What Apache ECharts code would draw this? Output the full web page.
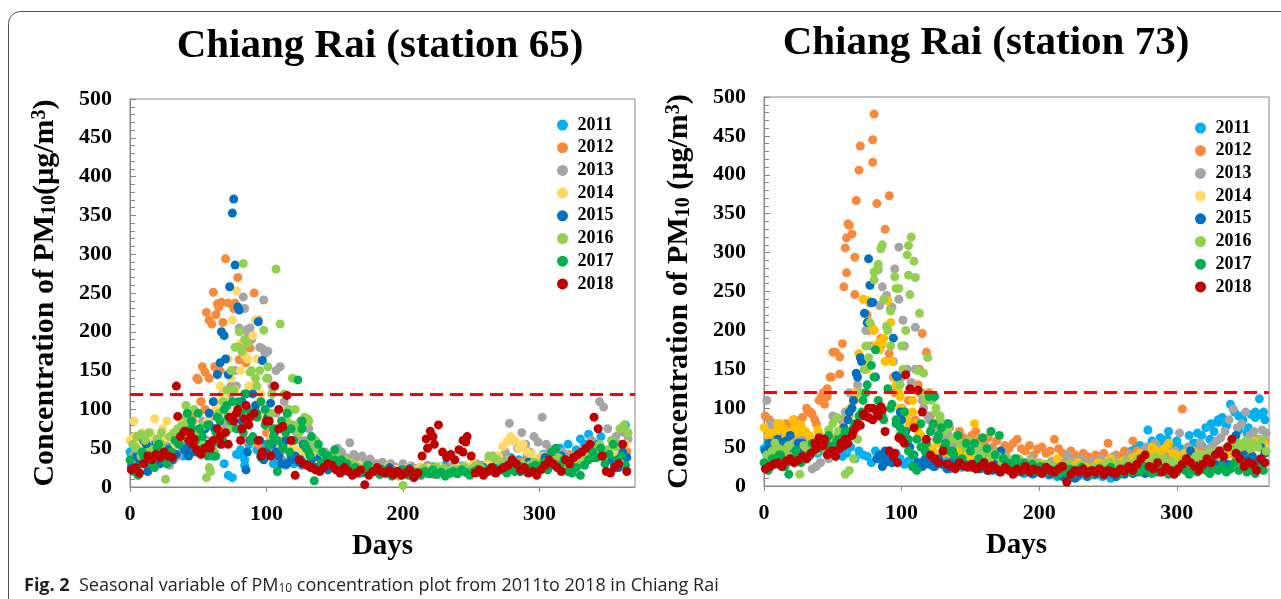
<!DOCTYPE html>
<html>
<head>
<meta charset="utf-8">
<script src="https://cdn.jsdelivr.net/npm/echarts@6/dist/echarts.min.js"></script>
<style>
  html, body { margin: 0; padding: 0; background: #ffffff; }
  #chart { width: 1281px; height: 599px; }
</style>
</head>
<body>
<div id="chart"></div>
<script>
const years = ["2011", "2012", "2013", "2014", "2015", "2016", "2017", "2018"];
// every series is read every 3rd day, each year starting on its own day
const STEP = 3;
const dayOffset = [0, 1, 2, 0, 1, 2, 0, 1];
const xTicks = [0, 100, 200, 300];

// ---- station 65 ----
const s65_2011 = [45,52,60,38,55,48,62,50,41,58, 47,55,62,40,66,58,70,52,60,45, 55,40,62,30,15,12,42,48,35,55, 60,48,38,52,45,30,40,36,28,33, 30,35,28,40,25,32,22,30,26,35, 24,28,20,35,26,22,30,19,25,27, 22,18,25,20,26,17,21,24,19,22, 20,24,18,22,26,19,23,28,21,25, 22,27,20,25,30,24,28,23,26,30, 28,25,32,38,30,35,27,40,33,30, 35,42,30,38,45,50,36,55,40,48, 62,55,68,58,48,65,45,40,60,50,72,80];
const s65_2012 = [30,42,55,38,48,35,52,44,60,40, 45,60,55,75,90,85,140,110,148,215, 251,236,238,294,120,230,270,110,160,179, 250,215,90,70,60,75,55,48,62,50, 45,38,52,35,40,30,42,35,28,38, 32,40,28,35,30,25,38,28,33,26, 30,25,22,28,20,24,18,22,26,20, 22,18,25,20,16,23,19,24,21,18, 20,25,22,18,26,21,24,28,22,26, 25,30,28,35,26,32,29,38,30,27, 30,36,28,40,33,38,30,42,35,38, 40,35,45,38,50,42,36,48,55,44,50,46];
const s65_2013 = [40,35,55,48,30,52,45,38,60,28, 35,42,50,60,55,75,70,85,78,90, 110,95,120,80,130,150,205,245,200,190, 215,180,241,175,130,150,155,110,95,80, 70,85,60,55,48,52,40,45,38,42, 50,45,38,57,42,35,40,32,36,30, 28,32,25,30,26,22,30,20,27,24, 25,22,28,20,24,26,19,23,27,21, 24,28,22,26,30,25,28,35,40,32, 38,45,82,60,50,70,55,45,65,58, 90,55,48,42,38,45,40,35,42,38, 45,52,60,55,110,103,75,60,65,55,70,62];
const s65_2014 = [60,85,55,70,48,65,88,58,75,85, 62,70,55,80,68,75,60,72,58,85, 95,110,130,120,165,215,253,150,170,130, 195,165,120,100,85,70,75,60,55,48, 52,45,40,48,38,42,35,40,32,30, 35,28,32,26,30,24,28,22,25,20, 24,20,22,26,19,23,21,18,25,20, 22,26,20,24,18,22,25,21,19,23, 25,22,28,24,30,26,22,28,32,35, 40,52,58,65,60,50,55,45,42,38, 35,40,32,38,30,36,33,28,35,30, 38,42,35,45,40,48,36,44,50,42,48,55];
const s65_2015 = [25,50,35,60,20,45,55,30,40,48, 35,42,55,48,40,65,50,60,75,95, 110,145,200,165,258,371,232,85,120,60, 95,213,163,45,108,70,40,52,30,35, 40,32,55,28,35,25,38,30,22,28, 25,30,22,28,20,26,18,24,27,21, 20,23,18,25,21,17,22,19,24,20, 18,22,20,17,24,19,21,23,18,22, 20,24,19,22,26,21,25,20,23,27, 22,26,30,24,28,20,25,32,27,22, 30,38,26,33,28,40,35,30,25,36, 32,40,45,38,55,48,42,35,30,25,45,38];
const s65_2016 = [55,65,40,60,70,48,62,55,10,65, 70,55,80,105,75,60,72,55,12,20, 45,60,110,125,150,180,200,288,185,150, 140,150,202,155,120,281,210,120,100,140, 80,75,90,85,60,50,45,40,35,42, 38,32,35,28,30,25,22,28,20,24, 20,18,22,16,20,14,2,18,22,20, 20,24,18,22,26,20,24,22,19,23, 22,26,20,24,28,25,22,40,38,35, 30,28,35,32,26,30,25,28,32,30, 28,32,35,30,38,26,33,36,40,30, 35,45,50,40,55,38,48,60,52,75,80,70];
const s65_2017 = [35,20,15,45,30,40,25,55,38,30, 45,60,55,70,95,85,60,75,50,40, 55,70,85,100,90,110,75,95,120,80, 65,90,110,100,55,75,60,85,70,45, 60,138,75,50,40,8,55,45,38,30, 35,28,22,30,20,25,18,22,28,19, 20,16,22,18,14,20,17,22,15,19, 18,15,20,17,22,16,19,14,18,20, 17,22,19,15,20,23,18,21,24,19, 22,25,18,24,20,27,22,19,25,28, 25,30,22,45,50,28,35,20,18,25, 15,28,35,45,38,50,30,42,55,35,40,28];
const s65_2018 = [22,25,18,30,40,35,42,38,45,40, 38,130,65,72,60,55,48,42,50,55, 60,75,55,70,90,85,100,75,105,90, 95,60,45,85,40,130,100,78,118,60, 15,35,30,28,25,22,20,25,30,28, 22,18,25,20,15,18,22,3,15,20, 25,20,18,22,16,20,15,18,22,12, 18,40,62,72,55,80,45,38,42,35, 48,60,65,40,18,22,15,20,25,18, 22,25,28,35,30,22,25,18,20,15, 22,28,35,30,25,20,35,30,38,42, 45,50,55,90,75,40,20,18,25,30,55,20];

// extra readings between the 3-day points, [day, value]
const x65_2011 = [[6,55],[13,40],[19,58],[30,50],[36,62],[42,48],[60,40],[66,55],[80,42],[84,28],[98,55],[104,40],[110,30]];
const x65_2012 = [[56,225],[60,210],[63,222],[65,232],[68,212],[72,237],[77,237],[50,138],[53,155],[58,140],[62,155],[80,164],[66,150],[83,180],[87,200],[52,110],[55,100],[48,95],[40,80],[44,70],[70,75],[85,60],[94,55],[100,80],[103,45],[110,38],[115,55]];
const x65_2013 = [[86,203],[88,205],[97,178],[99,172],[84,230],[95,110],[20,35],[26,45],[35,40],[44,55],[50,65],[56,60],[65,90],[71,100],[74,120],[78,130],[101,140],[104,120],[107,95],[113,85],[116,100],[125,60],[131,75]];
const x65_2014 = [[74,140],[81,185],[86,165],[92,215],[77,125],[89,130],[3,65],[9,55],[15,70],[18,50],[24,60],[33,55],[39,75],[45,68],[51,62],[57,50],[63,100],[66,85],[69,115],[72,95],[95,110],[98,90],[101,80],[104,65],[110,55]];
const x65_2015 = [[75,353],[77,286],[69,195],[80,228],[72,145],[66,160],[90,120],[85,22],[92,105],[5,40],[12,55],[18,45],[25,35],[38,60],[42,50],[48,45],[52,70],[55,55],[58,80],[62,75],[82,110],[86,45],[95,60],[98,35],[101,90],[104,55],[107,45],[111,30],[114,60],[118,40],[125,35]];
const x65_2016 = [[80,180],[82,175],[84,190],[88,148],[93,130],[76,125],[58,25],[4,50],[8,68],[14,45],[20,58],[23,70],[28,40],[35,75],[38,60],[41,90],[44,80],[47,100],[50,65],[53,78],[65,95],[70,105],[73,75],[100,140],[103,95],[115,85],[121,100],[124,70],[127,80],[130,88],[136,60]];
const x65_2017 = [[150,48],[145,40],[155,35],[140,30],[108,20],[62,40],[45,75],[50,95],[53,65],[57,80],[64,90],[68,60],[71,105],[74,85],[79,110],[83,70],[86,100],[89,60],[93,95],[96,40],[99,80],[102,55],[105,65],[112,50],[115,95],[118,75],[126,85],[128,55],[131,45],[133,65],[5,25],[10,40],[16,30],[20,50],[25,35]];
const x65_2018 = [[35,91],[44,70],[47,62],[59,50],[66,65],[72,55],[78,95],[81,60],[84,88],[87,80],[96,40],[102,85],[109,75],[218,50],[222,65],[244,45],[246,58]];

// ---- station 73 ----
const s73_2011 = [48,55,42,60,50,38,45,52,40,35, 45,38,50,42,55,48,40,52,45,38, 42,50,35,45,40,38,30,45,35,40, 38,30,42,35,28,32,25,30,28,35, 30,25,32,28,35,22,30,26,24,28, 25,30,22,26,20,28,24,18,22,25, 20,18,22,16,19,15,21,17,20,14, 16,12,18,14,10,15,12,17,13,16, 14,18,12,16,10,20,15,22,35,45, 48,52,40,72,58,45,62,55,70,50, 58,48,42,65,55,68,52,75,60,70, 82,88,78,105,95,72,85,68,92,88,112,95];
const s73_2012 = [90,75,80,65,72,60,78,85,70,68, 100,95,85,110,120,115,140,172,144,256, 337,324,367,437,150,200,445,363,180,330, 170,140,120,100,95,80,75,130,196,172, 90,75,70,65,80,60,55,70,62,58, 65,70,60,55,62,50,58,45,52,48, 55,60,48,45,52,40,48,50,42,45, 60,48,42,38,45,40,35,42,38,36, 40,38,42,55,35,40,38,45,42,58, 45,40,42,38,48,35,42,40,38,45, 40,99,38,42,35,40,45,38,42,36, 45,40,50,42,38,48,45,55,50,60,52,58];
const s73_2013 = [110,80,60,55,70,45,65,50,58,62, 40,22,25,30,45,55,90,60,70,95, 120,110,130,160,200,235,200,278,256,245, 228,279,307,213,150,133,204,120,100,90, 75,60,70,55,65,50,58,45,52,48, 45,50,42,38,48,40,35,42,38,30, 35,32,30,28,35,25,30,28,24,32, 28,25,30,40,32,28,35,30,26,32, 30,35,28,32,38,30,26,35,40,32, 38,45,50,42,55,48,40,52,35,45, 68,42,50,38,45,55,40,48,52,58, 62,70,85,99,75,80,95,65,70,60,72,68];
const s73_2014 = [75,65,55,70,80,72,60,85,68,78, 70,65,58,72,55,48,62,55,68,75, 85,100,120,170,240,150,205,180,185,190, 238,160,130,115,90,75,110,80,65,55, 50,45,55,40,48,42,38,45,35,40, 38,80,35,38,30,33,28,35,30,32, 28,25,30,22,26,20,24,28,22,25, 22,35,20,25,28,22,30,26,24,20, 25,30,28,22,35,26,30,32,28,35, 38,42,35,40,50,45,38,48,55,42, 40,35,42,38,45,32,40,36,42,38, 35,45,40,50,42,55,48,52,45,58,50,55];
const s73_2015 = [45,55,40,60,50,35,65,45,55,48, 50,42,55,48,60,52,45,58,65,70, 85,100,145,165,222,292,236,35,40,30, 45,190,140,85,60,50,40,30,25,35, 30,25,35,28,22,30,25,32,28,26, 24,28,22,35,26,20,30,45,22,25, 20,22,18,25,20,16,22,18,20,15, 18,15,12,16,14,10,15,18,12,16, 15,18,14,20,16,12,18,15,20,16, 18,22,16,20,25,18,22,20,24,18, 22,25,20,45,28,24,30,26,22,28, 25,30,28,55,65,40,45,35,38,30,50,42];
const s73_2016 = [40,35,55,48,42,50,38,45,15,52, 48,55,45,50,60,72,80,88,55,15, 20,35,60,120,180,210,275,285,310,205, 225,269,254,150,297,320,268,222,145,165, 110,95,85,70,75,60,65,55,50,58, 45,52,40,48,35,42,38,30,35,32, 30,35,28,25,32,30,26,22,28,24, 20,25,22,28,24,20,26,22,18,24, 22,26,20,30,25,28,22,32,26,30, 35,30,28,32,38,30,35,28,32,25, 30,35,28,32,38,40,35,42,38,45, 40,48,52,45,55,50,58,48,55,50,60,45];
const s73_2017 = [30,20,35,28,40,25,15,32,38,30, 35,40,45,50,55,60,48,52,58,62, 70,65,80,90,110,130,155,175,100,85, 125,105,85,75,95,60,40,20,50,45, 115,80,60,75,55,45,40,65,35,55, 45,55,35,62,48,70,40,65,35,30, 28,35,25,30,22,28,20,25,18,22, 20,15,25,18,22,16,20,24,18,15, 18,22,16,20,24,18,15,22,20,18, 22,18,25,20,16,24,18,22,15,20, 18,24,20,15,22,18,25,20,16,22, 20,25,18,22,30,20,26,18,24,16,22,20];
const s73_2018 = [22,25,28,30,25,32,35,30,33,38, 35,42,55,62,52,40,45,38,48,52, 55,65,75,78,90,100,85,95,102,70, 45,38,30,60,143,125,75,123,95,60, 40,35,30,45,28,25,22,30,26,24, 28,22,25,30,20,26,22,18,24,20, 15,22,20,25,18,22,20,16,24,20, 18,22,25,5,15,20,18,22,16,20, 18,22,15,20,18,16,22,19,25,20, 28,35,40,25,22,30,18,24,20,15, 22,28,35,30,25,20,28,35,30,40, 45,38,50,60,42,35,25,30,28,20,35,30];

const x73_2011 = [[325,80],[330,85],[336,78],[345,90],[352,75],[357,95],[360,92],[364,85],[318,65],[313,55],[300,55],[293,60],[288,50],[280,45],[4,50],[10,45],[16,55],[22,48],[28,42],[34,50],[40,45],[46,52],[52,40],[58,45]];
const x73_2012 = [[62,335],[60,319],[59,306],[60,274],[69,406],[80,478],[79,416],[91,373],[66,294],[66,246],[57,183],[50,172],[48,140],[55,166],[44,105],[42,115],[46,125],[35,92],[75,220],[85,190],[4,85],[10,72],[16,80],[22,70],[28,88],[32,95],[38,80],[95,120],[100,90],[105,110],[110,85],[113,150],[120,120],[125,80],[130,70],[135,75]];
const x73_2013 = [[88,239],[84,232],[93,230],[98,240],[102,180],[5,75],[11,65],[17,52],[23,60],[29,48],[41,30],[47,35],[53,50],[56,85],[60,95],[68,120],[74,150],[78,180],[94,160],[100,140],[110,150],[115,110],[120,85],[126,70],[131,60]];
const x73_2014 = [[86,185],[88,160],[76,238],[95,140],[99,100],[92,210],[4,68],[10,80],[16,62],[22,75],[28,70],[34,60],[40,68],[46,55],[52,62],[56,70],[62,90],[66,110],[72,160],[80,200],[84,175],[98,120],[104,85],[108,95],[112,70],[116,60]];
const x73_2015 = [[77,258],[75,210],[78,236],[71,160],[68,140],[84,40],[86,25],[90,35],[96,142],[4,52],[10,48],[16,58],[22,42],[28,55],[34,45],[40,52],[46,62],[52,55],[58,75],[62,95],[65,110],[81,140],[88,45],[93,30],[99,95],[103,70],[108,40],[114,30],[120,28]];
const x73_2016 = [[105,309],[109,289],[105,271],[106,246],[85,305],[82,278],[96,254],[80,265],[87,240],[90,200],[100,180],[112,148],[6,45],[12,40],[18,52],[24,35],[30,50],[36,48],[42,55],[48,62],[54,70],[70,90],[73,150],[76,165],[92,180],[99,130],[103,200],[115,120],[118,110],[125,100],[128,90],[131,80]];
const x73_2017 = [[5,25],[11,40],[17,30],[23,45],[29,35],[35,55],[41,50],[47,65],[53,58],[59,70],[65,75],[71,95],[74,120],[80,140],[83,110],[86,90],[92,100],[96,80],[99,65],[102,70],[105,45],[108,25],[111,60],[114,80],[118,55],[121,70],[124,115],[127,65],[131,50],[134,80],[137,45]];
const x73_2018 = [[44,60],[41,55],[38,48],[47,42],[50,45],[56,55],[59,60],[65,70],[68,80],[72,92],[76,88],[79,100],[83,90],[86,98],[95,42],[98,62],[102,55]];

const station65 = [s65_2011, s65_2012, s65_2013, s65_2014, s65_2015, s65_2016, s65_2017, s65_2018];
const extra65 = [x65_2011, x65_2012, x65_2013, x65_2014, x65_2015, x65_2016, x65_2017, x65_2018];
const station73 = [s73_2011, s73_2012, s73_2013, s73_2014, s73_2015, s73_2016, s73_2017, s73_2018];
const extra73 = [x73_2011, x73_2012, x73_2013, x73_2014, x73_2015, x73_2016, x73_2017, x73_2018];

const colors65 = ["#00B0F0", "#F88A3C", "#A5A5A5", "#FFD966", "#0070C0", "#92D050", "#00B050", "#C00000"];
const colors73 = ["#00B0F0", "#F88A3C", "#A5A5A5", "#FFC000", "#0070C0", "#92D050", "#00B050", "#C00000"];
const limit = 120;

const serif = '"Liberation Serif", "Times New Roman", serif';
const sans = '"Open Sans", "Noto Sans", sans-serif';
const axisGrey = "#868686";

function buildSeries(values, extras, colors, axisIndex) {
  return values.map((vals, k) => {
    const pts = vals.map((v, i) => [dayOffset[k] + STEP * i, v]).concat(extras[k]);
    const s = {
      type: "scatter",
      name: years[k],
      xAxisIndex: axisIndex,
      yAxisIndex: axisIndex,
      symbol: "circle",
      symbolSize: 9,
      itemStyle: { color: colors[k], opacity: 1 },
      emphasis: { disabled: true },
      data: pts
    };
    if (k === values.length - 1) {
      s.markLine = {
        silent: true,
        symbol: "none",
        label: { show: false },
        lineStyle: { color: "#FF0000", type: [13, 7], width: 3 },
        data: [{ yAxis: limit }]
      };
    }
    return s;
  });
}

function xAxis(idx, max) {
  return {
    gridIndex: idx, type: "value", min: 0, max: max, interval: 100,
    name: "Days", nameLocation: "middle", nameGap: 45,
    nameTextStyle: { fontFamily: serif, fontWeight: "bold", fontSize: 29, color: "#000" },
    axisLine: { show: true, lineStyle: { color: axisGrey } },
    axisTick: { show: true, length: 5, customValues: xTicks, lineStyle: { color: axisGrey } },
    axisLabel: { fontFamily: serif, fontWeight: "bold", fontSize: 22, color: "#000", margin: 16, customValues: xTicks },
    splitLine: { show: false }
  };
}

function yAxis(idx, name) {
  return {
    gridIndex: idx, type: "value", min: 0, max: 500, interval: 50,
    name: name, nameLocation: "middle", nameGap: 70, nameRotate: 90,
    nameTextStyle: {
      fontFamily: serif, fontWeight: "bold", fontSize: 30, color: "#000",
      rich: {
        sub: { fontFamily: serif, fontWeight: "bold", fontSize: 20, color: "#000", verticalAlign: "bottom" },
        sup: { fontFamily: serif, fontWeight: "bold", fontSize: 20, color: "#000", verticalAlign: "top" }
      }
    },
    axisLine: { show: true, lineStyle: { color: axisGrey } },
    axisTick: { show: true, inside: true, length: 6, lineStyle: { color: axisGrey } },
    minorTick: { show: true, splitNumber: 5, length: 5, lineStyle: { color: axisGrey } },
    axisLabel: { fontFamily: serif, fontWeight: "bold", fontSize: 22, color: "#000", margin: 18 },
    splitLine: { show: false }
  };
}

function legend(left, top) {
  return {
    data: years, orient: "vertical", left: left, top: top, padding: 0,
    icon: "circle", itemWidth: 20, itemHeight: 11, itemGap: 4.7,
    selectedMode: false,
    textStyle: { fontFamily: serif, fontWeight: "bold", fontSize: 18, lineHeight: 18, color: "#000" }
  };
}

var chart = echarts.init(document.getElementById("chart"));
chart.setOption({
  animation: false,
  backgroundColor: "#ffffff",
  grid: [
    { left: 130, top: 99, width: 505, height: 388, show: true, borderColor: axisGrey, borderWidth: 1 },
    { left: 764, top: 97, width: 505, height: 389, show: true, borderColor: axisGrey, borderWidth: 1 }
  ],
  xAxis: [xAxis(0, 370), xAxis(1, 367)],
  yAxis: [
    yAxis(0, "Concentration of PM{sub|10}(µg/m{sup|3})"),
    yAxis(1, "Concentration of PM{sub|10} (µg/m{sup|3})")
  ],
  legend: [legend(557, 116), legend(1195, 119)],
  graphic: [
    {
      type: "rect", silent: true,
      shape: { x: 8.5, y: 11.5, width: 1400, height: 700, r: 12 },
      style: { fill: "none", stroke: "#4d4d4d", lineWidth: 1 }
    },
    {
      type: "text", x: 380, y: 46, silent: true,
      style: { text: "Chiang Rai (station 65)", fontFamily: serif, fontWeight: "bold", fontSize: 41, fill: "#000", align: "center", verticalAlign: "middle" }
    },
    {
      type: "text", x: 986, y: 43, silent: true,
      style: { text: "Chiang Rai (station 73)", fontFamily: serif, fontWeight: "bold", fontSize: 41, fill: "#000", align: "center", verticalAlign: "middle" }
    },
    {
      type: "text", x: 24, y: 586, silent: true,
      style: {
        text: "{b|Fig. 2}  Seasonal variable of PM{s|10} concentration plot from 2011to 2018 in Chiang Rai",
        fontFamily: sans, fontSize: 18, fill: "#231F20",
        verticalAlign: "middle",
        rich: {
          b: { fontFamily: sans, fontWeight: "bold", fontSize: 18, fill: "#231F20" },
          s: { fontFamily: sans, fontSize: 12, fill: "#231F20", verticalAlign: "bottom" }
        }
      }
    }
  ],
  series: buildSeries(station65, extra65, colors65, 0).concat(buildSeries(station73, extra73, colors73, 1))
});
</script>
</body>
</html>
